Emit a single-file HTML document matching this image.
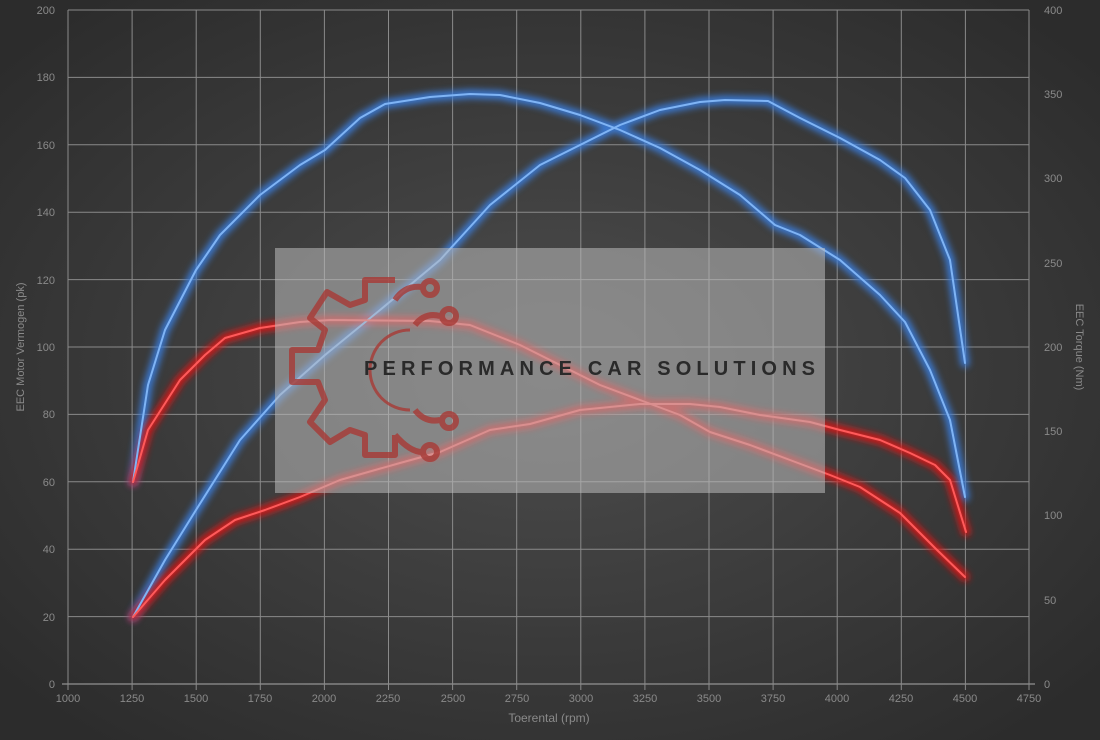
<!DOCTYPE html>
<html><head><meta charset="utf-8"><style>
html,body{margin:0;padding:0;width:1100px;height:740px;overflow:hidden;background:#333;}
svg{display:block;font-family:"Liberation Sans",sans-serif;}
</style></head><body>
<svg width="1100" height="740" viewBox="0 0 1100 740">
<defs>
<radialGradient id="bg" cx="50%" cy="50%" r="65%">
<stop offset="0" stop-color="#4d4d4d"/><stop offset="1" stop-color="#2c2c2c"/>
</radialGradient>
<filter id="glow" x="-10%" y="-10%" width="120%" height="120%"><feGaussianBlur stdDeviation="3.5"/></filter>
</defs>
<rect width="1100" height="740" fill="url(#bg)"/>
<g stroke="#8a8a8a" stroke-width="1">
<line x1="68" y1="10" x2="1029" y2="10"/><line x1="68" y1="77.4" x2="1029" y2="77.4"/>
<line x1="68" y1="144.8" x2="1029" y2="144.8"/><line x1="68" y1="212.2" x2="1029" y2="212.2"/>
<line x1="68" y1="279.6" x2="1029" y2="279.6"/><line x1="68" y1="347" x2="1029" y2="347"/>
<line x1="68" y1="414.4" x2="1029" y2="414.4"/><line x1="68" y1="481.8" x2="1029" y2="481.8"/>
<line x1="68" y1="549.2" x2="1029" y2="549.2"/><line x1="68" y1="616.6" x2="1029" y2="616.6"/>
<line x1="62" y1="684" x2="1035" y2="684" stroke="#aaa"/>
<line x1="68" y1="10" x2="68" y2="690"/><line x1="132.1" y1="10" x2="132.1" y2="690"/>
<line x1="196.2" y1="10" x2="196.2" y2="690"/><line x1="260.3" y1="10" x2="260.3" y2="690"/>
<line x1="324.4" y1="10" x2="324.4" y2="690"/><line x1="388.5" y1="10" x2="388.5" y2="690"/>
<line x1="452.6" y1="10" x2="452.6" y2="690"/><line x1="516.7" y1="10" x2="516.7" y2="690"/>
<line x1="580.8" y1="10" x2="580.8" y2="690"/><line x1="644.9" y1="10" x2="644.9" y2="690"/>
<line x1="709" y1="10" x2="709" y2="690"/><line x1="773.1" y1="10" x2="773.1" y2="690"/>
<line x1="837.2" y1="10" x2="837.2" y2="690"/><line x1="901.3" y1="10" x2="901.3" y2="690"/>
<line x1="965.4" y1="10" x2="965.4" y2="690"/><line x1="1029" y1="10" x2="1029" y2="690"/>
</g>
<g fill="#8a8a8a" font-size="11" text-anchor="end">
<text x="55" y="14">200</text><text x="55" y="81">180</text><text x="55" y="149">160</text>
<text x="55" y="216">140</text><text x="55" y="284">120</text><text x="55" y="351">100</text>
<text x="55" y="418">80</text><text x="55" y="486">60</text><text x="55" y="553">40</text>
<text x="55" y="621">20</text><text x="55" y="688">0</text>
</g>
<g fill="#8a8a8a" font-size="11" text-anchor="start">
<text x="1044" y="14">400</text><text x="1044" y="98">350</text><text x="1044" y="182">300</text>
<text x="1044" y="267">250</text><text x="1044" y="351">200</text><text x="1044" y="435">150</text>
<text x="1044" y="519">100</text><text x="1044" y="604">50</text><text x="1044" y="688">0</text>
</g>
<g fill="#8a8a8a" font-size="11" text-anchor="middle">
<text x="68" y="702">1000</text><text x="132" y="702">1250</text><text x="196" y="702">1500</text>
<text x="260" y="702">1750</text><text x="324" y="702">2000</text><text x="388" y="702">2250</text>
<text x="453" y="702">2500</text><text x="517" y="702">2750</text><text x="581" y="702">3000</text>
<text x="645" y="702">3250</text><text x="709" y="702">3500</text><text x="773" y="702">3750</text>
<text x="837" y="702">4000</text><text x="901" y="702">4250</text><text x="965" y="702">4500</text>
<text x="1029" y="702">4750</text>
<text x="549" y="722" font-size="12">Toerental (rpm)</text>
<text transform="translate(24,347) rotate(-90)" font-size="11">EEC Motor Vermogen (pk)</text>
<text transform="translate(1076,347) rotate(90)" font-size="11">EEC Torque (Nm)</text>
</g>
<g fill="none" stroke-linejoin="round" stroke-linecap="round">
<g stroke="#3a7fe0" stroke-width="9" filter="url(#glow)" opacity="0.9">
<polyline points="133,482 148,385 165,330 196,270 220,235 260,195 300,165 325,150 360,118 385,104 430,97 470,94 500,95 540,103 580,115 620,130 660,148 700,170 740,195 775,225 800,235 840,260 880,295 905,322 930,370 950,420 965,497"/>
<polyline points="133,617 165,560 196,510 240,440 280,395 325,355 380,310 440,260 490,205 540,165 580,145 620,125 660,110 700,102 725,100 768,101 800,118 840,138 880,160 905,178 930,210 950,260 965,363"/>
</g>
<g stroke="#e01818" stroke-width="9" filter="url(#glow)" opacity="0.9">
<polyline points="133,482 148,430 180,380 205,355 225,338 260,328 300,322 330,320 430,321 470,325 520,345 560,365 600,385 640,400 680,415 710,432 750,445 790,460 830,475 860,487 900,513 935,548 965,577"/>
<polyline points="133,617 165,580 205,540 235,520 265,510 300,497 340,480 400,463 440,452 490,430 530,424 580,410 640,404 690,404 720,407 760,415 810,422 840,430 880,440 910,453 935,465 950,480 966,532"/>
</g>
<g stroke="#7fb4f5" stroke-width="2">
<polyline points="133,482 148,385 165,330 196,270 220,235 260,195 300,165 325,150 360,118 385,104 430,97 470,94 500,95 540,103 580,115 620,130 660,148 700,170 740,195 775,225 800,235 840,260 880,295 905,322 930,370 950,420 965,497"/>
<polyline points="133,617 165,560 196,510 240,440 280,395 325,355 380,310 440,260 490,205 540,165 580,145 620,125 660,110 700,102 725,100 768,101 800,118 840,138 880,160 905,178 930,210 950,260 965,363"/>
</g>
<g stroke="#ff5a5a" stroke-width="2">
<polyline points="133,482 148,430 180,380 205,355 225,338 260,328 300,322 330,320 430,321 470,325 520,345 560,365 600,385 640,400 680,415 710,432 750,445 790,460 830,475 860,487 900,513 935,548 965,577"/>
<polyline points="133,617 165,580 205,540 235,520 265,510 300,497 340,480 400,463 440,452 490,430 530,424 580,410 640,404 690,404 720,407 760,415 810,422 840,430 880,440 910,453 935,465 950,480 966,532"/>
</g>
</g>
<rect x="275" y="248" width="550" height="245" fill="#bcbcbc" opacity="0.55"/>
<g fill="none" stroke="#a83a36" stroke-width="6" opacity="0.8" stroke-linejoin="round">
<path d="M395,280 L365,280 L365,300 L350,305 L327,292 L310,318 L325,330 L318,350 L292,350 L292,382 L318,382 L325,400 L310,422 L330,442 L350,430 L365,435 L365,455 L395,455 L395,435"/>
<path d="M410,330 A40,40 0 0 0 410,410" stroke-width="3"/>
<path d="M395,300 Q405,285 422,287"/><circle cx="430" cy="288" r="7"/>
<path d="M415,325 Q425,312 440,316"/><circle cx="449" cy="316" r="7"/>
<path d="M415,410 Q425,423 440,420"/><circle cx="449" cy="421" r="7"/>
<path d="M395,435 Q410,452 422,452"/><circle cx="430" cy="452" r="7"/>
</g>
<text x="364" y="375" font-size="20" font-weight="bold" fill="#2a2a2a" textLength="451" lengthAdjust="spacing">PERFORMANCE CAR SOLUTIONS</text>
</svg>
</body></html>
